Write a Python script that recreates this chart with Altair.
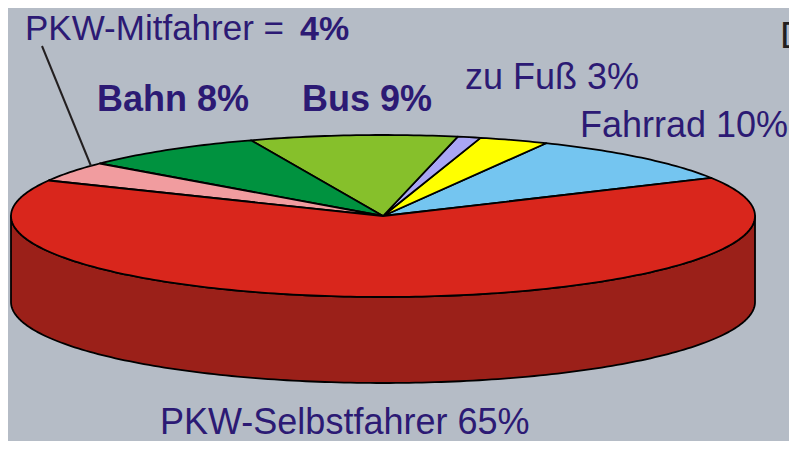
import math
import altair as alt
import pandas as pd

# ---------------- data ----------------
categories = ["Fahrrad", "zu Fuß", "Sonstige", "Bus", "Bahn", "PKW-Mitfahrer", "PKW-Selbstfahrer"]
shares = [10, 3, 1, 9, 8, 4, 65]

# ---------------- styles / layout ----------------
top_colors = ["#74C5F0", "#FFFF00", "#A9A6F5", "#86C02B", "#00923F", "#F19C9F", "#D9261C"]
side_colors = ["#4F8FB3", "#B8B800", "#7572B8", "#5E8A1C", "#006A2D", "#B4696C", "#9B2019"]
BG = "#B5BCC6"
TXT = "#2C1A74"
FONT = "Liberation Sans"

W, H = 781, 433
CX, CY, RX, RY, DEPTH = 375, 208, 372, 81, 86
START_DEG = 28.0

# label layout: (x, y baseline, bold)
label_layout = {
    "Fahrrad": (572, 129, False),
    "zu Fuß": (457, 81, False),
    "Bus": (294, 103, True),
    "Bahn": (89, 103, True),
    "PKW-Selbstfahrer": (152, 426, False),
}
mitfahrer_layout = {"text_x": 17, "pct_x": 292, "y": 32}
leader = {"x": 34, "y": 38, "x2": 83, "y2": 158}


def ell(t_deg, dy=0.0):
    t = math.radians(t_deg)
    return CX + RX * math.cos(t), CY - RY * math.sin(t) + dy


def arc_pts(a0, a1, dy=0.0):
    n = max(2, int(math.ceil(abs(a1 - a0))))
    return [ell(a0 + (a1 - a0) * k / n, dy) for k in range(n + 1)]


top_rows, side_rows = [], []
top_ids, side_ids, side_cols = [], [], []
acc = START_DEG
for i, (cat, s) in enumerate(zip(categories, shares)):
    a0, a1 = acc, acc + s * 3.6
    acc = a1
    pid = f"top_{i}"
    top_ids.append(pid)
    pts = [(CX, CY)] + arc_pts(a0, a1)
    for j, (x, y) in enumerate(pts):
        top_rows.append({"poly": pid, "ord": j, "x": x, "y": y})
    for shift in (0.0, 360.0):
        lo, hi = max(a0, 180 + shift), min(a1, 360 + shift)
        if hi > lo:
            sid = f"side_{i}_{int(shift)}"
            side_ids.append(sid)
            side_cols.append(side_colors[i])
            spts = arc_pts(lo, hi) + arc_pts(hi, lo, DEPTH)
            for j, (x, y) in enumerate(spts):
                side_rows.append({"poly": sid, "ord": j, "x": x, "y": y})

top_df = pd.DataFrame(top_rows)
side_df = pd.DataFrame(side_rows)

xs = alt.Scale(domain=[0, W], nice=False, zero=False)
ys = alt.Scale(domain=[0, H], nice=False, zero=False, reverse=True)


def poly_layer(df, ids, cols):
    return alt.Chart(df).mark_line(
        interpolate="linear-closed", stroke="black", strokeWidth=1.8, strokeJoin="round"
    ).encode(
        x=alt.X("x:Q", scale=xs, axis=None),
        y=alt.Y("y:Q", scale=ys, axis=None),
        fill=alt.Fill("poly:N", scale=alt.Scale(domain=ids, range=cols), legend=None),
        order=alt.Order("ord:Q"),
    )


sides = poly_layer(side_df, side_ids, side_cols)
tops = poly_layer(top_df, top_ids, top_colors)

# labels
lab_rows = []
for cat, s in zip(categories, shares):
    if cat in label_layout:
        x, y, b = label_layout[cat]
        lab_rows.append({"label": f"{cat} {s}%", "x": x, "y": y, "bold": b, "size": 36})
lab_df = pd.DataFrame(lab_rows)

mit_share = shares[categories.index("PKW-Mitfahrer")]
mit_df = pd.DataFrame([
    {"label": "PKW-Mitfahrer =", "x": mitfahrer_layout["text_x"], "y": mitfahrer_layout["y"], "bold": False, "size": 35},
    {"label": f"{mit_share}%", "x": mitfahrer_layout["pct_x"], "y": mitfahrer_layout["y"], "bold": True, "size": 34},
])
lab_df = pd.concat([lab_df, mit_df], ignore_index=True)


def text_layer(df, weight):
    return alt.Chart(df).mark_text(
        align="left", baseline="alphabetic", font=FONT,
        fontWeight=weight, color=TXT
    ).encode(
        x=alt.X("x:Q", scale=xs, axis=None),
        y=alt.Y("y:Q", scale=ys, axis=None),
        text="label:N",
        size=alt.Size("size:Q", scale=None, legend=None),
    )


reg_text = text_layer(lab_df[~lab_df["bold"]], "normal")
bold_text = text_layer(lab_df[lab_df["bold"]], "bold")

lead_df = pd.DataFrame([leader])
lead = alt.Chart(lead_df).mark_rule(color="#231F20", strokeWidth=2).encode(
    x=alt.X("x:Q", scale=xs, axis=None), y=alt.Y("y:Q", scale=ys, axis=None),
    x2="x2:Q", y2="y2:Q",
)

d_df = pd.DataFrame([{"label": "D", "x": 772, "y": 40}])
d_text = alt.Chart(d_df).mark_text(
    align="left", baseline="alphabetic", font=FONT, fontSize=37, color="#231F20"
).encode(
    x=alt.X("x:Q", scale=xs, axis=None), y=alt.Y("y:Q", scale=ys, axis=None), text="label:N"
)

chart = alt.layer(sides, tops, lead, reg_text, bold_text, d_text).resolve_scale(
    fill="independent", size="independent"
).properties(
    width=W, height=H, background=BG, padding=0,
    autosize=alt.AutoSizeParams(type="none"),
).configure_view(stroke=None)

chart.save("out.html", embed_options={"renderer": "svg", "actions": False})
